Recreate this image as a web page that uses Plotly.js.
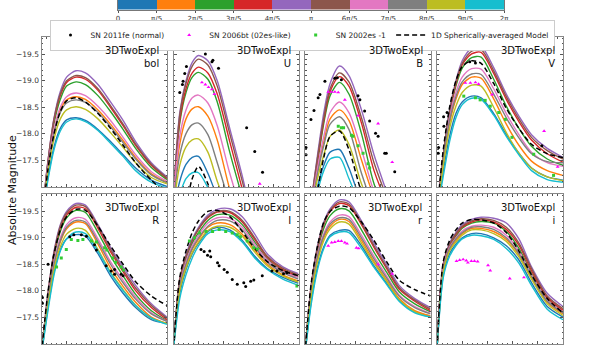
<!DOCTYPE html>
<html>
<head>
<meta charset="utf-8">
<script src="https://cdn.plot.ly/plotly-3.0.1.min.js"></script>
<style>body{margin:0;background:#fff}#plot{width:592px;height:346px}</style>
</head>
<body>
<div id="plot"></div>
<script>
// days since explosion used as the common time grid of the model curves
var days = [0, 2, 4, 6, 8, 11, 14, 18, 22, 26, 30, 35, 40];

// viewing angle bins, tab10 order
var angleColors = ["#1f77b4","#ff7f0e","#2ca02c","#d62728","#9467bd","#8c564b","#e377c2","#7f7f7f","#bcbd22","#17becf"];
var angleBins = [0.5, 1.5, 2.5, 3.5, 4.5, 5.5, 6.5, 7.5, 8.5, 9.5];
var angleTickVals = [0, 1, 2, 3, 4, 5, 6, 7, 8, 9, 10];
var angleTickText = ["0","π/5","2π/5","3π/5","4π/5","π","6π/5","7π/5","8π/5","9π/5","2π"];

var bands = ["bol", "U", "B", "V", "R", "I", "r", "i"];

// model magnitudes, one row per angle bin (same order as angleColors)
var bolModels = [
  [-16.3,-17.15,-17.75,-18.1,-18.26,-18.30,-18.25,-18.08,-17.85,-17.6,-17.35,-17.12,-17.0],
  [-16.3,-17.33,-18.03,-18.45,-18.64,-18.70,-18.65,-18.45,-18.18,-17.87,-17.55,-17.24,-17.08],
  [-16.3,-17.4,-18.2,-18.65,-18.9,-18.98,-18.93,-18.72,-18.42,-18.08,-17.72,-17.36,-17.13],
  [-16.3,-17.42,-18.25,-18.72,-18.97,-19.07,-19.03,-18.82,-18.5,-18.15,-17.78,-17.4,-17.15],
  [-16.3,-17.45,-18.3,-18.8,-19.07,-19.19,-19.15,-18.93,-18.6,-18.25,-17.85,-17.45,-17.18],
  [-16.3,-17.45,-18.28,-18.75,-19.0,-19.10,-19.06,-18.85,-18.53,-18.18,-17.8,-17.42,-17.16],
  [-16.3,-17.35,-18.08,-18.5,-18.7,-18.77,-18.72,-18.52,-18.25,-17.93,-17.6,-17.28,-17.1],
  [-16.3,-17.3,-18.0,-18.4,-18.58,-18.64,-18.59,-18.4,-18.13,-17.83,-17.52,-17.22,-17.07],
  [-16.3,-17.25,-17.9,-18.28,-18.45,-18.51,-18.46,-18.28,-18.02,-17.74,-17.45,-17.17,-17.05],
  [-16.3,-17.1,-17.7,-18.05,-18.22,-18.28,-18.23,-18.06,-17.82,-17.57,-17.3,-17.08,-16.97]
];
var bolAvg = [-16.2,-17.3,-18.0,-18.42,-18.62,-18.68,-18.6,-18.38,-18.1,-17.78,-17.45,-17.12,-16.85];

var uModels = [
  [-16.5,-17.1,-17.42,-17.55,-17.57,-17.25,-16.8,-16.3,-16,-15.8,-15.5,-15,-15],
  [-16.8,-17.8,-18.28,-18.47,-18.51,-18.33,-17.88,-16.95,-16.3,-15.8,-15.5,-15,-15],
  [-16.8,-18.2,-18.78,-19.07,-19.16,-19.03,-18.6,-17.65,-16.8,-16,-15.5,-15,-15],
  [-16.8,-18.25,-18.85,-19.15,-19.26,-19.15,-18.75,-17.85,-16.95,-16.1,-15.5,-15,-15],
  [-16.8,-18.4,-19.0,-19.35,-19.48,-19.38,-19.0,-18.1,-17.2,-16.2,-15.5,-15,-15],
  [-16.8,-18.35,-18.95,-19.28,-19.41,-19.3,-18.9,-18.0,-17.1,-16.2,-15.5,-15,-15],
  [-16.8,-17.95,-18.45,-18.68,-18.73,-18.58,-18.15,-17.25,-16.5,-15.9,-15.5,-15,-15],
  [-16.7,-17.6,-18.0,-18.17,-18.2,-17.98,-17.45,-16.7,-16.2,-15.8,-15.5,-15,-15],
  [-16.6,-17.4,-17.75,-17.88,-17.9,-17.65,-17.1,-16.5,-16.1,-15.8,-15.5,-15,-15],
  [-16.4,-16.85,-17.15,-17.26,-17.26,-16.98,-16.6,-16.2,-16,-15.8,-15.5,-15,-15]
];
var uAvg = [-15.5,-16.0,-16.6,-17.15,-17.38,-17.05,-16.4,-16,-15.8,-15.6,-15.5,-15,-15];

var bModels = [
  [-15.5,-16.4,-17.0,-17.4,-17.65,-17.7,-17.35,-16.7,-16.3,-16.1,-16,-15.5,-15],
  [-15.5,-16.6,-17.3,-17.85,-18.28,-18.45,-18.25,-17.5,-16.8,-16.3,-16,-15.5,-15],
  [-15.5,-16.7,-17.45,-18.2,-18.72,-18.97,-18.75,-18.0,-17.05,-16.5,-16.1,-15.5,-15],
  [-15.5,-16.7,-17.5,-18.25,-18.8,-19.08,-18.9,-18.2,-17.3,-16.7,-16.2,-15.5,-15],
  [-15.5,-16.7,-17.6,-18.4,-18.95,-19.28,-19.1,-18.45,-17.6,-16.9,-16.2,-15.5,-15],
  [-15.5,-16.7,-17.55,-18.3,-18.85,-19.15,-18.98,-18.3,-17.45,-16.8,-16.2,-15.5,-15],
  [-15.5,-16.6,-17.35,-17.95,-18.4,-18.6,-18.4,-17.7,-16.9,-16.4,-16,-15.5,-15],
  [-15.5,-16.5,-17.25,-17.78,-18.18,-18.32,-18.08,-17.25,-16.6,-16.2,-16,-15.5,-15],
  [-15.5,-16.5,-17.15,-17.6,-17.95,-18.07,-17.8,-17.05,-16.5,-16.2,-16,-15.5,-15],
  [-15.5,-16.3,-16.9,-17.3,-17.52,-17.55,-17.15,-16.6,-16.3,-16.1,-16,-15.5,-15]
];
var bAvg = [-15,-16,-16.9,-17.55,-17.95,-18.05,-17.7,-16.9,-16.4,-16.1,-16,-15.5,-15];

var vModels = [
  [-16.5,-17.3,-17.95,-18.38,-18.6,-18.71,-18.68,-18.38,-17.98,-17.63,-17.35,-17.18,-17.12],
  [-16.5,-17.45,-18.2,-18.65,-18.93,-19.07,-19.05,-18.66,-18.18,-17.78,-17.48,-17.3,-17.21],
  [-16.5,-17.6,-18.38,-18.9,-19.24,-19.44,-19.45,-19.03,-18.52,-18.1,-17.76,-17.52,-17.40],
  [-16.5,-17.6,-18.4,-18.94,-19.3,-19.51,-19.54,-19.14,-18.65,-18.23,-17.88,-17.62,-17.46],
  [-16.5,-17.6,-18.45,-19.0,-19.38,-19.62,-19.65,-19.25,-18.75,-18.33,-17.98,-17.72,-17.55],
  [-16.5,-17.6,-18.42,-18.97,-19.33,-19.56,-19.59,-19.19,-18.7,-18.28,-17.93,-17.68,-17.52],
  [-16.5,-17.5,-18.3,-18.78,-19.07,-19.23,-19.22,-18.85,-18.38,-17.98,-17.65,-17.45,-17.38],
  [-16.5,-17.5,-18.25,-18.7,-18.98,-19.13,-19.12,-18.75,-18.3,-17.92,-17.62,-17.47,-17.45],
  [-16.5,-17.4,-18.1,-18.52,-18.78,-18.92,-18.9,-18.5,-18.02,-17.63,-17.35,-17.18,-17.11],
  [-16.5,-17.2,-17.85,-18.3,-18.55,-18.67,-18.65,-18.35,-17.95,-17.6,-17.3,-17.13,-17.08]
];
var vAvg = [-16.5,-17.7,-18.5,-19.0,-19.27,-19.38,-19.33,-18.95,-18.48,-18.1,-17.8,-17.62,-17.55];

var rModels = [
  [-16.8,-17.65,-18.35,-18.77,-18.98,-19.06,-19.03,-18.7,-18.28,-17.95,-17.68,-17.45,-17.38],
  [-16.8,-17.75,-18.48,-18.92,-19.17,-19.30,-19.27,-18.88,-18.43,-18.08,-17.78,-17.5,-17.38],
  [-16.8,-17.85,-18.65,-19.12,-19.38,-19.52,-19.48,-19.1,-18.66,-18.28,-17.93,-17.62,-17.43],
  [-16.8,-17.9,-18.7,-19.18,-19.43,-19.58,-19.55,-19.18,-18.74,-18.36,-18.0,-17.68,-17.45],
  [-16.8,-17.9,-18.75,-19.25,-19.5,-19.65,-19.62,-19.25,-18.82,-18.45,-18.1,-17.75,-17.5],
  [-16.8,-17.9,-18.72,-19.22,-19.47,-19.62,-19.59,-19.22,-18.78,-18.4,-18.05,-17.72,-17.48],
  [-16.8,-17.8,-18.55,-19.0,-19.25,-19.38,-19.35,-18.98,-18.55,-18.2,-17.88,-17.58,-17.42],
  [-16.8,-17.8,-18.5,-18.95,-19.2,-19.33,-19.3,-18.93,-18.5,-18.15,-17.84,-17.56,-17.42],
  [-16.8,-17.7,-18.4,-18.83,-19.07,-19.18,-19.14,-18.78,-18.35,-18.02,-17.72,-17.48,-17.38],
  [-16.8,-17.6,-18.3,-18.75,-18.98,-19.11,-19.08,-18.75,-18.33,-18.0,-17.72,-17.48,-17.36]
];
var rAvg = [-16.8,-17.95,-18.7,-19.15,-19.4,-19.54,-19.52,-19.22,-18.85,-18.5,-18.17,-17.9,-17.72];

var iModels = [
  [-16.9,-17.95,-18.4,-18.7,-18.9,-19.12,-19.2,-19.15,-18.95,-18.65,-18.42,-18.25,-18.14],
  [-16.9,-18.05,-18.48,-18.78,-18.97,-19.2,-19.28,-19.25,-19.07,-18.77,-18.5,-18.3,-18.18],
  [-16.9,-18.15,-18.6,-18.9,-19.1,-19.33,-19.44,-19.43,-19.25,-18.92,-18.6,-18.38,-18.26],
  [-16.9,-18.2,-18.65,-18.95,-19.16,-19.38,-19.49,-19.48,-19.3,-18.97,-18.63,-18.4,-18.28],
  [-16.9,-18.2,-18.68,-18.98,-19.2,-19.43,-19.54,-19.55,-19.4,-19.07,-18.7,-18.45,-18.32],
  [-16.9,-18.2,-18.65,-18.95,-19.17,-19.4,-19.5,-19.5,-19.33,-19.0,-18.65,-18.42,-18.3],
  [-16.9,-18.1,-18.55,-18.85,-19.05,-19.28,-19.38,-19.37,-19.2,-18.88,-18.58,-18.36,-18.25],
  [-16.9,-18.1,-18.5,-18.8,-19.0,-19.22,-19.33,-19.32,-19.15,-18.83,-18.54,-18.34,-18.22],
  [-16.9,-18.0,-18.43,-18.72,-18.92,-19.14,-19.22,-19.2,-19.03,-18.73,-18.47,-18.28,-18.16],
  [-16.9,-17.85,-18.3,-18.62,-18.85,-19.08,-19.15,-19.12,-18.92,-18.62,-18.4,-18.22,-18.1]
];
var iAvg = [-16.9,-18.25,-18.75,-19.1,-19.32,-19.5,-19.52,-19.4,-19.12,-18.8,-18.55,-18.38,-18.28];

var rsModels = [
  [-16.8,-17.8,-18.45,-18.83,-19.05,-19.14,-19.14,-18.85,-18.47,-18.14,-17.82,-17.6,-17.52],
  [-16.8,-17.95,-18.6,-19.0,-19.22,-19.35,-19.31,-18.95,-18.55,-18.2,-17.85,-17.62,-17.52],
  [-16.8,-18.05,-18.75,-19.18,-19.42,-19.55,-19.51,-19.15,-18.73,-18.35,-17.98,-17.75,-17.6],
  [-16.8,-18.1,-18.8,-19.25,-19.5,-19.65,-19.61,-19.25,-18.82,-18.42,-18.03,-17.8,-17.62],
  [-16.8,-18.1,-18.85,-19.3,-19.55,-19.72,-19.68,-19.32,-18.9,-18.5,-18.1,-17.85,-17.68],
  [-16.8,-18.1,-18.82,-19.27,-19.52,-19.68,-19.64,-19.28,-18.85,-18.45,-18.06,-17.82,-17.65],
  [-16.8,-18.0,-18.68,-19.08,-19.3,-19.43,-19.4,-19.05,-18.65,-18.28,-17.92,-17.7,-17.57],
  [-16.8,-18.0,-18.65,-19.04,-19.26,-19.38,-19.35,-19.0,-18.6,-18.24,-17.9,-17.68,-17.56],
  [-16.8,-17.9,-18.55,-18.95,-19.17,-19.3,-19.26,-18.9,-18.52,-18.18,-17.83,-17.6,-17.5],
  [-16.8,-17.75,-18.4,-18.8,-19.02,-19.11,-19.1,-18.8,-18.44,-18.12,-17.8,-17.58,-17.5]
];
var rsAvg = [-16.8,-18.15,-18.85,-19.3,-19.5,-19.6,-19.57,-19.3,-18.95,-18.55,-18.2,-18.02,-17.9];

var isModels = [
  [-16.9,-18.3,-18.7,-18.88,-19.0,-19.08,-19.08,-19.0,-18.85,-18.58,-18.15,-17.7,-17.5],
  [-16.9,-18.4,-18.78,-18.95,-19.08,-19.18,-19.18,-19.12,-18.97,-18.68,-18.25,-17.78,-17.56],
  [-16.9,-18.45,-18.85,-19.03,-19.18,-19.28,-19.31,-19.28,-19.12,-18.8,-18.33,-17.84,-17.6],
  [-16.9,-18.5,-18.87,-19.06,-19.2,-19.3,-19.34,-19.3,-19.16,-18.86,-18.38,-17.87,-17.63],
  [-16.9,-18.5,-18.9,-19.1,-19.25,-19.35,-19.39,-19.37,-19.28,-18.98,-18.45,-17.95,-17.7],
  [-16.9,-18.5,-18.88,-19.08,-19.22,-19.32,-19.36,-19.33,-19.2,-18.9,-18.42,-17.9,-17.66],
  [-16.9,-18.45,-18.82,-19.0,-19.13,-19.22,-19.24,-19.2,-19.05,-18.75,-18.3,-17.82,-17.6],
  [-16.9,-18.4,-18.8,-18.98,-19.1,-19.2,-19.21,-19.16,-19.0,-18.7,-18.27,-17.8,-17.58],
  [-16.9,-18.35,-18.75,-18.92,-19.05,-19.15,-19.15,-19.08,-18.93,-18.64,-18.22,-17.75,-17.53],
  [-16.9,-18.25,-18.65,-18.85,-18.98,-19.05,-19.04,-18.97,-18.8,-18.52,-18.1,-17.65,-17.45]
];
var isAvg = [-16.9,-18.55,-18.95,-19.15,-19.28,-19.35,-19.34,-19.28,-19.1,-18.75,-18.3,-17.85,-17.58];

// SN 2011fe (normal)
var feUt = [2.0,2.86,3.07,3.6,4.13,6.46,10.2,12.3,12.6,14.4,23.4,26,28.5];
var feUm = [-18.78,-18.93,-18.99,-19.14,-19.27,-19.58,-19.51,-19.36,-19.39,-19.24,-18.11,-17.66,-17.27];
var feBt = [0.32,0.32,1.9,2.86,4.2,4.76,6.35,9.5,10.3,11.6,16.9,17.5,19,20.6,22.5,23.3,25.4,25.9,28.6];
var feBm = [-17.74,-17.60,-18.27,-18.44,-18.68,-18.74,-18.99,-19.05,-19.06,-19.02,-18.72,-18.64,-18.43,-18.24,-18.01,-17.95,-17.63,-17.63,-17.28];
var feVt = [0.5,0.4,2.1,2.2,3.2,10.4,12.2,33.3];
var feVm = [-17.74,-17.63,-18.32,-18.14,-18.40,-19.36,-19.34,-17.77];
var feRt = [0.3,0.3,2.1,9,10.3,12.7,14.3,16.9,17.5,20.6,22.2,23.3,23.3,25.4,26];
var feRm = [-17.87,-17.76,-18.50,-19.02,-19.06,-19.06,-19.03,-18.87,-18.77,-18.47,-18.37,-18.40,-18.31,-18.31,-18.28];
var feIt = [8.8,9.8,10.9,11.6,11.9,14.1,14.6,16.2,17.2,18.8,20.4,22.5,23.1,24.7,25.7,28.4,31.5,33.1,35.2,36.3];
var feIm = [-18.78,-18.74,-18.67,-18.75,-18.64,-18.53,-18.47,-18.40,-18.35,-18.21,-18.12,-18.15,-18.08,-18.18,-18.20,-18.28,-18.37,-18.37,-18.32,-18.34];

// SN 2006bt (02es-like)
var btUt = [9.1,10.2,11.2,12.3,13.1,27.6];
var btUm = [-18.97,-18.93,-18.88,-18.84,-18.75,-17.05];
var btBt = [7.4,8.5,9.5,10.6,12.7,16.9,23.3,27.8];
var btBm = [-18.79,-18.79,-18.79,-18.78,-18.64,-18.34,-18.19,-17.46];
var btVt = [9.0,10.6,12.2,13.2,17.5,34,38.3];
var btVm = [-18.96,-18.96,-18.97,-18.94,-18.74,-18.05,-17.37];
var btRst = [7.4,8.5,9.5,10.6,11.6,12.7,13.4,16.4,17.1,23.3,27.8];
var btRsm = [-18.85,-18.91,-18.92,-18.94,-18.94,-18.91,-18.89,-18.81,-18.80,-18.50,-18.32];
var btIst = [6.2,7.2,8.3,9.3,9.8,10.9,11.9,12.9,16.2,16.9,23.1,27.6];
var btIsm = [-18.56,-18.58,-18.59,-18.57,-18.53,-18.56,-18.56,-18.55,-18.48,-18.38,-18.23,-18.25];

// SN 2002es -1
var esBt = [10.6,11.6,12.3,14.8,15.3,16.9,18.5,20.1,20.6];
var esBm = [-18.14,-18.11,-18.11,-17.97,-17.95,-17.77,-17.63,-17.43,-17.35];
var esVt = [8.5,12.2,13.7,15.3,16.9,19.6,21.7,23.8,30.7,37];
var esVm = [-18.71,-18.68,-18.64,-18.63,-18.52,-18.40,-18.27,-17.93,-17.61,-17.21];
var esRt = [4.8,6.3,7.9,9.5,11.6,13.2,15.9,17.5,20.1,20.8,22.7,23.6,25.4,26.1];
var esRm = [-18.45,-18.62,-18.78,-18.97,-18.95,-18.97,-18.94,-18.92,-18.81,-18.77,-18.62,-18.54,-18.45,-18.39];
var esIt = [5.1,6.7,8.3,10.4,12.5,14.6,16.7,18.8,20.4,21.4,23.6,25.7,26.8,39.5];
var esIm = [-18.94,-19.0,-19.09,-19.12,-19.12,-19.16,-19.12,-19.09,-19.06,-19.02,-18.94,-18.81,-18.79,-18.09];

var panelModels = [bolModels, uModels, bModels, vModels, rModels, iModels, rsModels, isModels];
var panelAvg = [bolAvg, uAvg, bAvg, vAvg, rAvg, iAvg, rsAvg, isAvg];
var panelFe = [null, [feUt, feUm], [feBt, feBm], [feVt, feVm], [feRt, feRm], [feIt, feIm], null, null];
var panelBt = [null, [btUt, btUm], [btBt, btBm], [btVt, btVm], null, null, [btRst, btRsm], [btIst, btIsm]];
var panelEs = [null, null, [esBt, esBm], [esVt, esVm], [esRt, esRm], [esIt, esIm], null, null];

// panel boxes in pixels (left, right) and rows (top, bottom)
var W = 592, H = 346;
var colPx = [[41.5, 167], [173.5, 298.5], [305, 430.5], [437, 563]];
var rowPx = [[37, 187], [194, 344]];

var traces = [];
var layout = {
  width: W, height: H,
  margin: {l: 0, r: 0, t: 0, b: 0},
  paper_bgcolor: "#fff", plot_bgcolor: "#fff",
  font: {family: "DejaVu Sans, sans-serif", size: 8, color: "#222"},
  showlegend: true,
  legend: {
    orientation: "h", x: 302 / W, xanchor: "center", y: 1 - 19.5 / H, yanchor: "top",
    bordercolor: "#ccc", borderwidth: 1, bgcolor: "#fff",
    font: {size: 7.5}, traceorder: "normal", itemwidth: 30,
    itemsizing: "trace", tracegroupgap: 0
  },
  annotations: [],
  bargap: 0
};

for (var p = 0; p < 8; p++) {
  var col = p % 4, row = Math.floor(p / 4);
  var xa = "x" + (p + 1), ya = "y" + (p + 1);
  var xKey = "xaxis" + (p === 0 ? "" : p + 1), yKey = "yaxis" + (p === 0 ? "" : p + 1);
  layout[xKey] = {
    domain: [colPx[col][0] / W, colPx[col][1] / W], anchor: ya,
    range: [0, 40], showticklabels: false, showgrid: false, zeroline: false,
    showline: true, linecolor: "#888", linewidth: 1, mirror: "allticks",
    ticks: "inside", ticklen: 3, tickcolor: "#555", dtick: 8, tick0: 0,
    minor: {ticks: "inside", ticklen: 1.5, dtick: 1.6, tickcolor: "#555"}
  };
  layout[yKey] = {
    domain: [1 - rowPx[row][1] / H, 1 - rowPx[row][0] / H], anchor: xa,
    range: [-16.99, -19.83], showticklabels: col === 0, showgrid: false, zeroline: false,
    tickmode: "array", tickvals: [-19.5, -19.0, -18.5, -18.0, -17.5], ticktext: ["−19.5","−19.0","−18.5","−18.0","−17.5"],
    tickfont: {size: 7.5, color: "#333"},
    showline: true, linecolor: "#888", linewidth: 1, mirror: "allticks",
    ticks: "inside", ticklen: 3, tickcolor: "#555",
    minor: {ticks: "inside", ticklen: 1.5, tickmode: "linear", tick0: -19.5, dtick: 0.1, tickcolor: "#555"}
  };
  var models = panelModels[p];
  for (var c = 0; c < 10; c++) {
    traces.push({
      x: days, y: models[c], xaxis: xa, yaxis: ya, mode: "lines",
      line: {color: angleColors[c], width: 1.4, shape: "spline", smoothing: 0.8},
      showlegend: false, hoverinfo: "skip"
    });
  }
  traces.push({
    x: days, y: panelAvg[p], xaxis: xa, yaxis: ya, mode: "lines",
    name: "1D Spherically-averaged Model", legendrank: 4,
    line: {color: "#000", width: 1.5, dash: "5px,3px", shape: "spline", smoothing: 0.8},
    showlegend: p === 0, hoverinfo: "skip"
  });
  if (panelFe[p]) traces.push({
    x: panelFe[p][0], y: panelFe[p][1], xaxis: xa, yaxis: ya, mode: "markers",
    name: "SN 2011fe (normal)", legendrank: 1, legendgroup: "fe",
    marker: {color: "#000", size: 3, symbol: "circle"}, showlegend: p === 1
  });
  if (panelBt[p]) traces.push({
    x: panelBt[p][0], y: panelBt[p][1], xaxis: xa, yaxis: ya, mode: "markers",
    name: "SN 2006bt (02es-like)", legendrank: 2, legendgroup: "bt",
    marker: {color: "#ff00ff", size: 3.5, symbol: "triangle-up"}, showlegend: p === 1
  });
  if (panelEs[p]) traces.push({
    x: panelEs[p][0], y: panelEs[p][1], xaxis: xa, yaxis: ya, mode: "markers",
    name: "SN 2002es -1", legendrank: 3, legendgroup: "es",
    marker: {color: "#33cc33", size: 3, symbol: "square"}, showlegend: p === 2
  });
  layout.annotations.push({
    xref: xa + " domain", yref: ya + " domain", x: 1, y: 1,
    xanchor: "right", yanchor: "top", xshift: -6, yshift: -6, align: "right",
    text: "3DTwoExpl<br>" + bands[p], showarrow: false,
    font: {size: 10, color: "#111"}
  });
}

// angle colour bar on top
traces.push({
  type: "bar", x: angleBins, y: [1,1,1,1,1,1,1,1,1,1], width: 1,
  marker: {color: angleColors, line: {width: 0}},
  xaxis: "x9", yaxis: "y9", showlegend: false, hoverinfo: "skip"
});
layout.xaxis9 = {
  domain: [118 / W, 504 / W], anchor: "y9", range: [0, 10],
  tickmode: "array", tickvals: angleTickVals, ticktext: angleTickText,
  ticks: "outside", ticklen: 2.5, tickcolor: "#555", tickfont: {size: 7, color: "#333"},
  showline: true, linecolor: "#777", mirror: true, showgrid: false, zeroline: false
};
layout.yaxis9 = {
  domain: [1 - 9.5 / H, 1], anchor: "x9", range: [0, 1],
  showticklabels: false, ticks: "", showline: true, linecolor: "#777", mirror: true,
  showgrid: false, zeroline: false
};

layout.annotations.push({
  xref: "paper", yref: "paper", x: 12 / W, y: 1 - 190 / H, textangle: -90,
  xanchor: "center", yanchor: "middle",
  text: "Absolute Magnitude", showarrow: false, font: {size: 11, color: "#111"}
});

Plotly.newPlot("plot", traces, layout, {staticPlot: true});
</script>
</body>
</html>
